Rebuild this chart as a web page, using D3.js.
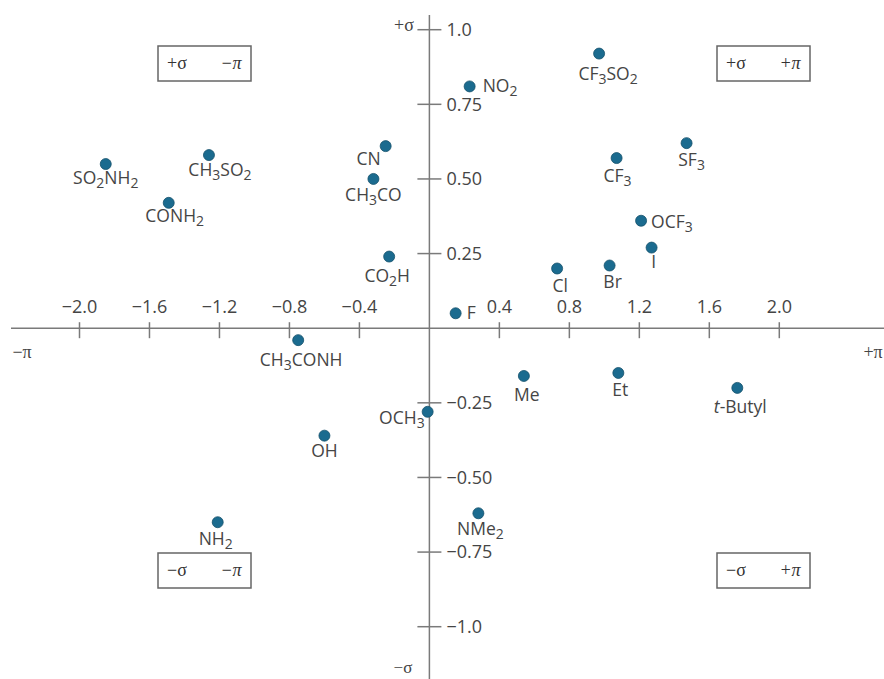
<!DOCTYPE html>
<html>
<head>
<meta charset="utf-8">
<script src="https://cdn.jsdelivr.net/npm/d3@7"></script>
<style>
  html, body { margin: 0; padding: 0; background: #fff; }
  svg { display: block; }
</style>
</head>
<body>
<svg id="chart" width="884" height="679"></svg>
<script>
// ---------- data ----------
const substituents = ["SO2NH2","CH3SO2","CONH2","CN","CH3CO","NO2","CF3SO2","CF3","SF3","OCF3","I","Cl","Br","F","Me","Et","t-Butyl","CO2H","CH3CONH","OCH3","OH","NH2","NMe2"];
const piValues    = [-1.85,-1.26,-1.49,-0.25,-0.32,0.23,0.97,1.07,1.47,1.21,1.27,0.73,1.03,0.15,0.54,1.08,1.76,-0.23,-0.75,-0.01,-0.60,-1.21,0.28];
const sigmaValues = [0.55,0.58,0.42,0.61,0.50,0.81,0.92,0.57,0.62,0.36,0.27,0.20,0.21,0.05,-0.16,-0.15,-0.20,0.24,-0.04,-0.28,-0.36,-0.65,-0.62];
const xTickValues = [-2.0,-1.6,-1.2,-0.8,-0.4,0.4,0.8,1.2,1.6,2.0];
const xTickLabels = ["\u22122.0","\u22121.6","\u22121.2","\u22120.8","\u22120.4","0.4","0.8","1.2","1.6","2.0"];
const yTickValues = [1.0,0.75,0.5,0.25,-0.25,-0.5,-0.75,-1.0];
const yTickLabels = ["1.0","0.75","0.50","0.25","\u22120.25","\u22120.50","\u22120.75","\u22121.0"];
const quadrantLabels = [["+\u03c3","\u2212\u03c0"],["+\u03c3","+\u03c0"],["\u2212\u03c3","\u2212\u03c0"],["\u2212\u03c3","+\u03c0"]];

// ---------- label placement (style, not data) ----------
const place = {
  "SO2NH2":[0,20,"middle"], "CH3SO2":[11,21,"middle"], "CONH2":[6,19,"middle"],
  "CN":[-17,19,"middle"], "CH3CO":[0,22,"middle"], "NO2":[13,6,"start"],
  "CF3SO2":[9,26,"middle"], "CF3":[1,24,"middle"], "SF3":[5,23,"middle"],
  "OCF3":[10,7,"start"], "I":[2,20,"middle"], "Cl":[3,23,"middle"], "Br":[3,22,"middle"],
  "F":[11,6,"start"], "Me":[3,25,"middle"], "Et":[2,23,"middle"], "t-Butyl":[3,25,"middle"],
  "CO2H":[-2,25,"middle"], "CH3CONH":[3,26,"middle"], "OCH3":[-3,12,"end"],
  "OH":[0,21,"middle"], "NH2":[-2,23,"middle"], "NMe2":[2,22,"middle"]
};

const svg = d3.select("#chart");
const x = d3.scaleLinear().domain([-2, 2]).range([79.5, 779.3]);
const y = d3.scaleLinear().domain([-1, 1]).range([626.7, 29.7]);
const x0 = x(0), y0 = y(0);
const axisColor = "#7a7a7a";
const textColor = "#454545";
const sans = "'Open Sans', 'Noto Sans', sans-serif";
const serif = "'Liberation Serif', 'DejaVu Serif', serif";

// axes lines
svg.append("line").attr("x1", 11).attr("x2", 884).attr("y1", y0).attr("y2", y0)
  .attr("stroke", axisColor).attr("stroke-width", 1.5);
svg.append("line").attr("x1", x0).attr("x2", x0).attr("y1", 15).attr("y2", 679)
  .attr("stroke", axisColor).attr("stroke-width", 1.5);

// x ticks
const xt = svg.append("g");
xTickValues.forEach((v, i) => {
  xt.append("line").attr("x1", x(v)).attr("x2", x(v)).attr("y1", y0 - 6).attr("y2", y0 + 10)
    .attr("stroke", axisColor).attr("stroke-width", 1.5);
  xt.append("text").attr("x", x(v)).attr("y", y0 - 15).attr("text-anchor", "middle")
    .attr("font-family", sans).attr("font-size", 18).attr("fill", textColor)
    .text(xTickLabels[i]);
});
// y ticks
const yt = svg.append("g");
yTickValues.forEach((v, i) => {
  yt.append("line").attr("x1", x0 - 12).attr("x2", x0 + 12).attr("y1", y(v)).attr("y2", y(v))
    .attr("stroke", axisColor).attr("stroke-width", 1.5);
  yt.append("text").attr("x", x0 + 17).attr("y", y(v)).attr("dy", "0.35em")
    .attr("font-family", sans).attr("font-size", 18).attr("fill", textColor)
    .text(yTickLabels[i]);
});

// axis end labels
const endLabels = [
  ["+\u03c3", 404, 31, 18], ["\u2212\u03c3", 403, 673, 17], ["\u2212\u03c0", 22, 358, 18], ["+\u03c0", 873, 358, 18]
];
endLabels.forEach(([t, px, py, fs]) => {
  svg.append("text").attr("x", px).attr("y", py).attr("text-anchor", "middle")
    .attr("font-family", serif).attr("font-size", fs).attr("fill", "#444").text(t);
});

// quadrant boxes
const boxes = [[158, 46], [717, 46], [158, 553], [717, 553]];
boxes.forEach(([bx, by], i) => {
  const g = svg.append("g").attr("transform", `translate(${bx},${by})`);
  g.append("rect").attr("x", 0).attr("y", 0).attr("width", 93).attr("height", 35)
    .attr("fill", "none").attr("stroke", "#666").attr("stroke-width", 1.5);
  g.append("text").attr("x", 19).attr("y", 23).attr("text-anchor", "middle")
    .attr("font-family", serif).attr("font-size", 18).attr("fill", "#333").text(quadrantLabels[i][0]);
  g.append("text").attr("x", 73).attr("y", 23).attr("text-anchor", "middle")
    .attr("font-family", serif).attr("font-size", 18).attr("fill", "#333").attr("font-style", "italic").text(quadrantLabels[i][1]);
});

// points
const data = substituents.map((n, i) => ({ name: n, pi: piValues[i], sigma: sigmaValues[i] }));
svg.append("g").selectAll("circle").data(data).join("circle")
  .attr("cx", d => x(d.pi)).attr("cy", d => y(d.sigma)).attr("r", 5.5)
  .attr("fill", "#1b6b8f").attr("stroke", "#14506b").attr("stroke-width", 0.8);

// labels with subscripts
function addLabel(sel, name) {
  if (name === "t-Butyl") {
    sel.append("tspan").attr("font-style", "italic").text("t");
    sel.append("tspan").text("-Butyl");
    return;
  }
  const parts = name.match(/[A-Za-z]+|\d+/g);
  parts.forEach(p => {
    if (/^\d+$/.test(p)) {
      sel.append("tspan").attr("font-size", "0.8em").attr("baseline-shift", "-0.3em").text(p);
    } else {
      sel.append("tspan").text(p);
    }
  });
}
const lg = svg.append("g");
data.forEach(d => {
  const [dx, dy, anchor] = place[d.name];
  const t = lg.append("text").attr("x", x(d.pi) + dx).attr("y", y(d.sigma) + dy)
    .attr("text-anchor", anchor).attr("font-family", sans).attr("font-size", 17.5)
    .attr("fill", textColor);
  addLabel(t, d.name);
});
</script>
</body>
</html>
